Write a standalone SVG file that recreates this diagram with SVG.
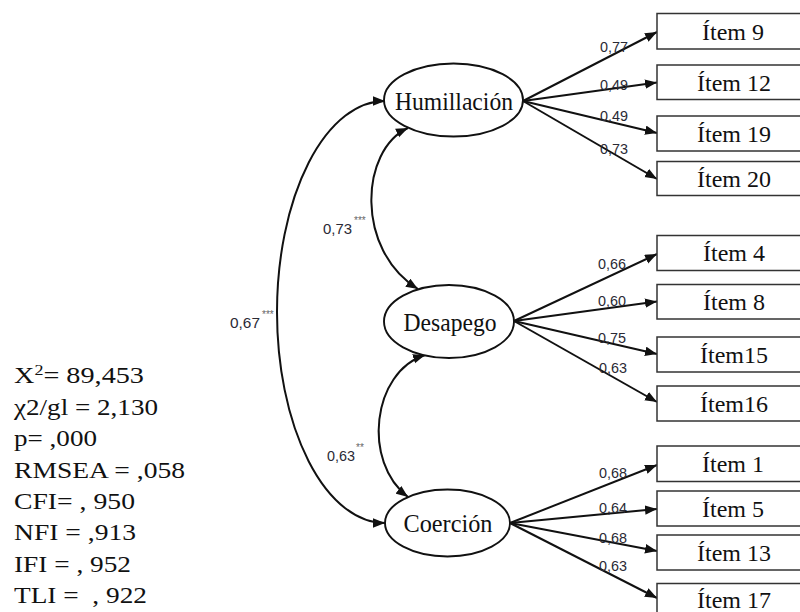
<svg xmlns="http://www.w3.org/2000/svg" width="800" height="612" viewBox="0 0 800 612">
<style>
.box{fill:#fff;stroke:#333;stroke-width:1.5}
.lat{fill:#fff;stroke:#111;stroke-width:1.9}
.ln{fill:none;stroke:#111;stroke-width:2}
.bt{font-family:"Liberation Serif","Times New Roman",serif;font-size:24px;fill:#111;text-anchor:middle}
.lt{font-family:"Liberation Serif","Times New Roman",serif;font-size:25px;fill:#111}
.st{font-family:"Liberation Serif","Times New Roman",serif;font-size:23.5px;fill:#111}
.lb{font-family:"Liberation Sans",Arial,sans-serif;font-size:14.5px;fill:#2a2a35}
.as{font-family:"Liberation Sans",Arial,sans-serif;font-size:10px;fill:#666}
</style>
<defs>
<marker id="ah" markerUnits="userSpaceOnUse" markerWidth="13" markerHeight="10" refX="12" refY="4.75" orient="auto-start-reverse">
<path d="M0,0 L12,4.75 L0,9.5 z" fill="#111"/>
</marker>
</defs>
<rect width="800" height="612" fill="#fff"/>

<g id="connectors">
<path class="ln" d="M523,101 L657,32" marker-end="url(#ah)"/>
<path class="ln" d="M523,101 L657,82.5" marker-end="url(#ah)"/>
<path class="ln" d="M523,101 L657,133" marker-end="url(#ah)"/>
<path class="ln" d="M523,101 L657,179" marker-end="url(#ah)"/>
<path class="ln" d="M514,321 L657,254" marker-end="url(#ah)"/>
<path class="ln" d="M514,321 L657,301.5" marker-end="url(#ah)"/>
<path class="ln" d="M514,321 L657,354" marker-end="url(#ah)"/>
<path class="ln" d="M514,321 L657,402" marker-end="url(#ah)"/>
<path class="ln" d="M510,523 L657,465" marker-end="url(#ah)"/>
<path class="ln" d="M510,523 L657,509" marker-end="url(#ah)"/>
<path class="ln" d="M510,523 L657,551" marker-end="url(#ah)"/>
<path class="ln" d="M510,523 L657,598" marker-end="url(#ah)"/>
<path class="ln" d="M385,101 A108,211 0 0 0 385,523" marker-start="url(#ah)" marker-end="url(#ah)"/>
<path class="ln" d="M408,128 C360,150 355,250 418,289" marker-start="url(#ah)" marker-end="url(#ah)"/>
<path class="ln" d="M425,355 C372,372 362,462 408,497" marker-start="url(#ah)" marker-end="url(#ah)"/>
</g>

<g id="edge-labels">
<text class="lb" x="600" y="52" textLength="28" lengthAdjust="spacingAndGlyphs">0,77</text>
<text class="lb" x="600" y="90" textLength="28" lengthAdjust="spacingAndGlyphs">0,49</text>
<text class="lb" x="600" y="121" textLength="28" lengthAdjust="spacingAndGlyphs">0,49</text>
<text class="lb" x="600" y="154" textLength="28" lengthAdjust="spacingAndGlyphs">0,73</text>
<text class="lb" x="598" y="269" textLength="28" lengthAdjust="spacingAndGlyphs">0,66</text>
<text class="lb" x="598" y="306" textLength="28" lengthAdjust="spacingAndGlyphs">0,60</text>
<text class="lb" x="598" y="342.5" textLength="28" lengthAdjust="spacingAndGlyphs">0,75</text>
<text class="lb" x="599" y="372.5" textLength="28" lengthAdjust="spacingAndGlyphs">0,63</text>
<text class="lb" x="599" y="478" textLength="28" lengthAdjust="spacingAndGlyphs">0,68</text>
<text class="lb" x="599" y="512.5" textLength="28" lengthAdjust="spacingAndGlyphs">0,64</text>
<text class="lb" x="599" y="542.5" textLength="28" lengthAdjust="spacingAndGlyphs">0,68</text>
<text class="lb" x="599" y="571" textLength="28" lengthAdjust="spacingAndGlyphs">0,63</text>
<text class="lb" x="323" y="234" textLength="29" lengthAdjust="spacingAndGlyphs">0,73</text>
<text class="as" x="354" y="224">***</text>
<text class="lb" x="230" y="328" textLength="30" lengthAdjust="spacingAndGlyphs">0,67</text>
<text class="as" x="262" y="318">***</text>
<text class="lb" x="327" y="461" textLength="28" lengthAdjust="spacingAndGlyphs">0,63</text>
<text class="as" x="356" y="451">**</text>
</g>

<g id="Humillacion">
<ellipse class="lat" cx="453.5" cy="100" rx="69.5" ry="36.5"/>
<text class="lt" x="395" y="110" textLength="118" lengthAdjust="spacingAndGlyphs">Humillación</text>
</g>
<g id="Desapego">
<ellipse class="lat" cx="449" cy="321.5" rx="65" ry="36.5"/>
<text class="lt" x="403.5" y="330.5" textLength="93" lengthAdjust="spacingAndGlyphs">Desapego</text>
</g>
<g id="Coercion">
<ellipse class="lat" cx="447.5" cy="523" rx="62.5" ry="33.5"/>
<text class="lt" x="403.5" y="531.5" textLength="89" lengthAdjust="spacingAndGlyphs">Coerción</text>
</g>

<g id="item9"><rect class="box" x="657" y="13.5" width="160" height="35.5"/><text class="bt" x="733" y="40">Ítem 9</text></g>
<g id="item12"><rect class="box" x="657" y="65" width="160" height="34.5"/><text class="bt" x="734" y="90.5">Ítem 12</text></g>
<g id="item19"><rect class="box" x="657" y="116" width="160" height="35"/><text class="bt" x="734" y="141.5">Ítem 19</text></g>
<g id="item20"><rect class="box" x="657" y="161.5" width="160" height="34"/><text class="bt" x="734" y="186.5">Ítem 20</text></g>
<g id="item4"><rect class="box" x="657" y="235.5" width="160" height="35"/><text class="bt" x="734" y="261">Ítem 4</text></g>
<g id="item8"><rect class="box" x="657" y="284.5" width="160" height="34.5"/><text class="bt" x="734" y="310">Ítem 8</text></g>
<g id="item15"><rect class="box" x="657" y="337" width="160" height="35"/><text class="bt" x="734" y="362.5">Ítem15</text></g>
<g id="item16"><rect class="box" x="657" y="386" width="160" height="35"/><text class="bt" x="734" y="411.5">Ítem16</text></g>
<g id="item1"><rect class="box" x="657" y="446" width="160" height="35.5"/><text class="bt" x="733" y="472">Ítem 1</text></g>
<g id="item5"><rect class="box" x="657" y="491" width="160" height="35"/><text class="bt" x="733" y="517">Ítem 5</text></g>
<g id="item13"><rect class="box" x="657" y="535" width="160" height="35"/><text class="bt" x="734" y="561">Ítem 13</text></g>
<g id="item17"><rect class="box" x="657" y="583.5" width="160" height="35"/><text class="bt" x="734" y="608">Ítem 17</text></g>

<g id="fit-indices">
<text class="st" x="14" y="383" textLength="130" lengthAdjust="spacingAndGlyphs">X<tspan font-size="15" dy="-8">2</tspan><tspan dy="8">= 89,453</tspan></text>
<text class="st" x="14" y="414.5" textLength="144" lengthAdjust="spacingAndGlyphs">χ2/gl = 2,130</text>
<text class="st" x="14" y="446" textLength="83" lengthAdjust="spacingAndGlyphs">p= ,000</text>
<text class="st" x="14" y="477.5" textLength="171" lengthAdjust="spacingAndGlyphs">RMSEA = ,058</text>
<text class="st" x="14" y="509" textLength="121" lengthAdjust="spacingAndGlyphs">CFI= , 950</text>
<text class="st" x="14" y="540" textLength="122" lengthAdjust="spacingAndGlyphs">NFI = ,913</text>
<text class="st" x="14" y="571.5" textLength="117" lengthAdjust="spacingAndGlyphs">IFI = , 952</text>
<text class="st" x="14" y="603" textLength="133" lengthAdjust="spacingAndGlyphs" xml:space="preserve">TLI =  , 922</text>
</g>
</svg>
